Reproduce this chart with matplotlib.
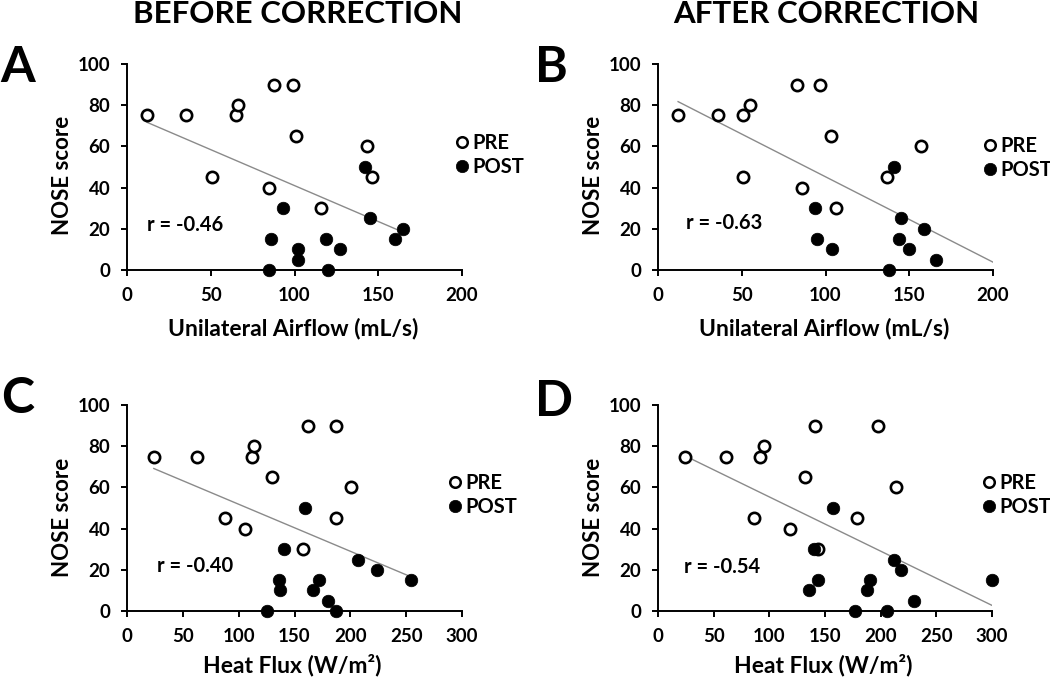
import numpy as np
import matplotlib
matplotlib.use("Agg")
import matplotlib.pyplot as plt
from matplotlib.lines import Line2D

plt.rcParams['font.family'] = ['Lato', 'DejaVu Sans']
plt.rcParams['font.weight'] = 'bold'

# ---------------- data ----------------
# Panel A: before correction, unilateral airflow
a_pre_x = [12, 35, 65, 66, 88, 99, 101, 51, 85, 116, 143, 146]
a_pre_y = [75, 75, 75, 80, 90, 90, 65, 45, 40, 30, 60, 45]
a_post_x = [142, 93, 145, 165, 160, 86, 102, 102, 119, 127, 85, 120]
a_post_y = [50, 30, 25, 20, 15, 15, 10, 5, 15, 10, 0, 0]

# Panel B: after correction, unilateral airflow
b_pre_x = [12, 36, 51, 55, 83, 97, 103, 157, 51, 86, 106, 137]
b_pre_y = [75, 75, 75, 80, 90, 90, 65, 60, 45, 40, 30, 45]
b_post_x = [141, 94, 95, 104, 145, 159, 144, 150, 166, 138]
b_post_y = [50, 30, 15, 10, 25, 20, 15, 10, 5, 0]

# Panel C: before correction, heat flux
c_pre_x = [24, 63, 112, 114, 162, 187, 130, 201, 88, 106, 187, 158]
c_pre_y = [75, 75, 75, 80, 90, 90, 65, 60, 45, 40, 45, 30]
c_post_x = [159, 141, 207, 224, 254, 136, 137, 172, 167, 180, 125, 187]
c_post_y = [50, 30, 25, 20, 15, 15, 10, 15, 10, 5, 0, 0]

# Panel D: after correction, heat flux
d_pre_x = [24, 61, 92, 95, 141, 198, 132, 214, 86, 119, 179, 144]
d_pre_y = [75, 75, 75, 80, 90, 90, 65, 60, 45, 40, 45, 30]
d_post_x = [157, 140, 212, 218, 300, 136, 144, 190, 188, 230, 177, 206]
d_post_y = [50, 30, 25, 20, 15, 10, 15, 15, 10, 5, 0, 0]

r_labels = ["r = -0.46", "r = -0.63", "r = -0.40", "r = -0.54"]
panel_letters = ["A", "B", "C", "D"]
column_titles = ["BEFORE CORRECTION", "AFTER CORRECTION"]
airflow_label = "Unilateral Airflow (mL/s)"
heatflux_label = "Heat Flux (W/m²)"
y_label = "NOSE score"
series_names = ["PRE", "POST"]
airflow_ticks = [0, 50, 100, 150, 200]
heatflux_ticks = [0, 50, 100, 150, 200, 250, 300]
nose_ticks = [0, 20, 40, 60, 80, 100]

# ---------------- layout ----------------
W, H = 1050, 679
fig = plt.figure(figsize=(W / 100, H / 100), dpi=100)

def rect(left_px, bottom_px, right_px, top_px):
    return [left_px / W, 1 - bottom_px / H, (right_px - left_px) / W, (bottom_px - top_px) / H]

panels = [
    dict(data=(a_pre_x, a_pre_y, a_post_x, a_post_y), rect=rect(127, 270, 462, 64),
         xt=airflow_ticks, xl=airflow_label, r=r_labels[0], rpos=(12, 22),
         leg=(1.0, 0.559), extend=False, ylab=(-0.194, 0.46), xlab=(0.497, -0.285)),
    dict(data=(b_pre_x, b_pre_y, b_post_x, b_post_y), rect=rect(658, 270, 993, 64),
         xt=airflow_ticks, xl=airflow_label, r=r_labels[1], rpos=(17, 23),
         leg=(0.991, 0.545), extend=True, ylab=(-0.194, 0.46), xlab=(0.497, -0.285)),
    dict(data=(c_pre_x, c_pre_y, c_post_x, c_post_y), rect=rect(127, 611, 462, 405),
         xt=heatflux_ticks, xl=heatflux_label, r=r_labels[2], rpos=(27, 22),
         leg=(0.979, 0.564), extend=False, ylab=(-0.194, 0.453), xlab=(0.494, -0.262)),
    dict(data=(d_pre_x, d_pre_y, d_post_x, d_post_y), rect=rect(658, 611, 992, 405),
         xt=heatflux_ticks, xl=heatflux_label, r=r_labels[3], rpos=(23, 21.5),
         leg=(0.991, 0.564), extend=False, ylab=(-0.194, 0.453), xlab=(0.494, -0.262)),
]

leg_fs = 14.5
handlelength = 0.6

for p in panels:
    ax = fig.add_axes(p['rect'])
    pre_x, pre_y, post_x, post_y = p['data']
    xmax = p['xt'][-1]

    # trend line (least squares over all points)
    all_x = np.array(pre_x + post_x, dtype=float)
    all_y = np.array(pre_y + post_y, dtype=float)
    slope, intercept = np.polyfit(all_x, all_y, 1)
    x_end = xmax if p['extend'] else all_x.max()
    xs = np.array([all_x.min(), x_end])
    ax.plot(xs, slope * xs + intercept, color='#8a8a8a', lw=1.0, zorder=1)

    ax.scatter(pre_x, pre_y, s=66, facecolor='white', edgecolor='black',
               linewidth=1.9, zorder=3, clip_on=False)
    ax.scatter(post_x, post_y, s=82, facecolor='black', edgecolor='black',
               linewidth=0.5, zorder=4, clip_on=False)

    ax.set_xlim(0, xmax)
    ax.set_ylim(0, 100)
    ax.set_xticks(p['xt'])
    ax.set_yticks(nose_ticks)
    for s in ['top', 'right']:
        ax.spines[s].set_visible(False)
    for s in ['left', 'bottom']:
        ax.spines[s].set_linewidth(1.4)
    ax.tick_params(axis='both', direction='out', length=4, width=1.4,
                   labelsize=13.5, pad=8)
    for lab in ax.get_xticklabels() + ax.get_yticklabels():
        lab.set_fontweight('bold')

    ax.set_ylabel(y_label, fontsize=16, fontweight='bold')
    ax.yaxis.set_label_coords(*p['ylab'])
    ax.set_xlabel(p['xl'], fontsize=16.5, fontweight='bold')
    ax.xaxis.set_label_coords(*p['xlab'])
    ax.xaxis.label.set_va('center')
    ax.yaxis.label.set_va('center')

    ax.text(p['rpos'][0], p['rpos'][1], p['r'], fontsize=14.5, fontweight='bold',
            ha='left', va='center')

    handles = [
        Line2D([], [], marker='o', ls='none', markerfacecolor='white',
               markeredgecolor='black', markeredgewidth=1.8, markersize=7.6),
        Line2D([], [], marker='o', ls='none', markerfacecolor='black',
               markeredgecolor='black', markeredgewidth=0.5, markersize=8.9),
    ]
    ax_w_px = p['rect'][2] * W
    offset = (handlelength * leg_fs / 2) * (100 / 72) / ax_w_px
    leg = ax.legend(handles, series_names, loc='center left',
                    bbox_to_anchor=(p['leg'][0] - offset, p['leg'][1]),
                    frameon=False, handlelength=handlelength,
                    handletextpad=0.2, borderpad=0, borderaxespad=0,
                    labelspacing=0.2, prop={'weight': 'bold', 'size': leg_fs})

# column titles
fig.text(297.5 / W, 1 - 23 / H, column_titles[0], ha='center', va='baseline',
         fontsize=22.5, fontweight='bold')
fig.text(826 / W, 1 - 23 / H, column_titles[1], ha='center', va='baseline',
         fontsize=22.5, fontweight='bold')

# panel letters
letter_pos = [(0, 82), (535, 82), (1, 413), (535, 416)]
for letter, (lx, ly) in zip(panel_letters, letter_pos):
    fig.text(lx / W, 1 - ly / H, letter, ha='left', va='baseline',
             fontsize=36, fontweight='bold')

fig.savefig('out.png', dpi=100)
